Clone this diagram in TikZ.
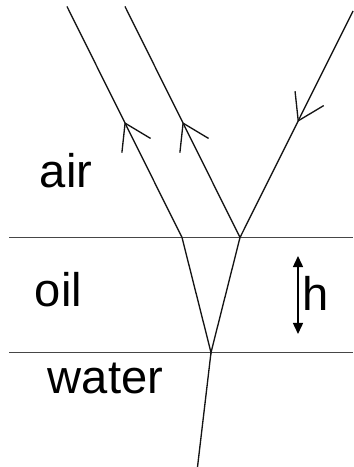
\documentclass[tikz,border=0pt]{standalone}
\usepackage{fontspec}
\setmainfont{Liberation Sans}
\usetikzlibrary{arrows.meta, decorations.markings}
\definecolor{rayblack}{RGB}{20,20,20}
\definecolor{surfgray}{RGB}{70,70,70}
\tikzset{
    ray/.style={rayblack, line width=0.38pt},
    surface/.style={surfgray, line width=0.5pt},
    midbarb/.style={postaction={decorate}, decoration={markings,
        mark=at position #1 with {\arrow{Straight Barb[length=2.5mm, width=3.2mm]}}}},
    medium/.style={font=\fontsize{13.4}{15}\selectfont, anchor=base, inner sep=0pt},
    depth/.style={{Triangle[length=1.1mm, width=1mm]}-{Triangle[length=1.1mm, width=1mm]}, line width=0.4pt},
}

\begin{document}
\begin{tikzpicture}[x=0.01cm, y=-0.01cm]
    \useasboundingbox (0,0) rectangle (353,467);
    % surfaces
    \coordinate (s1w) at (9,237.5);
    \coordinate (s1e) at (353,237.5);
    \coordinate (s2w) at (9,352.5);
    \coordinate (s2e) at (353,352.5);
    \draw[surface] (s1w) -- (s1e);
    \draw[surface] (s2w) -- (s2e);
    % ray points
    \coordinate (pa) at (182,237.5);
    \coordinate (pb) at (240,237.5);
    \coordinate (pc) at (211,352.5);
    \coordinate (inc) at (353,11);
    \coordinate (outl) at (67,6.5);
    \coordinate (outm) at (125,6.5);
    \coordinate (down) at (197.5,467);
    \draw[ray, midbarb=0.49] (inc) -- (pb);
    \draw[ray, midbarb=0.5] (pa) -- (outl);
    \draw[ray, midbarb=0.5] (pb) -- (outm);
    \draw[ray] (pb) -- (pc) -- (pa);
    \draw[ray] (pc) -- (down);
    % thickness
    \coordinate (htop) at (298,256);
    \coordinate (hbot) at (298,334);
    \draw[depth] (htop) -- (hbot);
    \node[medium] (hlbl) at (316,310) {h};
    \node[medium] (air) at (66,187.5) {air};
    \node[medium] (oil) at (58.5,306.5) {oil};
    \node[medium] (water) at (105.5,393.5) {water};
\end{tikzpicture}
\end{document}
